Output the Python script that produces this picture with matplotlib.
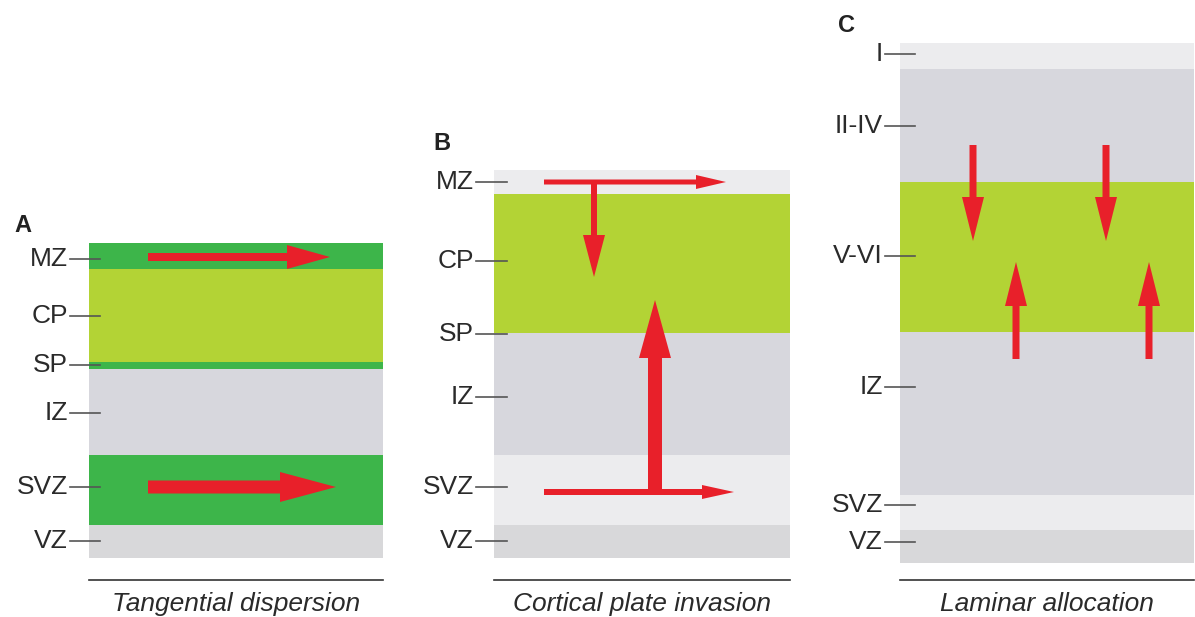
import matplotlib
matplotlib.use("Agg")
import matplotlib.pyplot as plt
from matplotlib.patches import Rectangle

plt.rcParams['font.family'] = ['Liberation Sans', 'DejaVu Sans']

# ---- colours ----
DKG = '#3db54a'
YG = '#b3d335'
GR = '#d7d7dd'
LG = '#ececee'
VG = '#d8d8da'
RED = '#e8202a'

# ---- Panel A: Tangential dispersion ----
a_x = [89, 383]
a_bounds = [243, 269, 362, 369, 455, 525, 558]
a_colors = [DKG, YG, DKG, GR, DKG, VG]
a_labels = ['MZ', 'CP', 'SP', 'IZ', 'SVZ', 'VZ']
a_label_y = [259, 316, 365, 413, 487, 541]
a_arrows = [  # x0, y0, x1, y1, shaft width, head width, head length
    (148, 257, 330, 257, 8, 24, 43),
    (148, 487, 336, 487, 13, 30, 56),
]

# ---- Panel B: Cortical plate invasion ----
b_x = [494, 790]
b_bounds = [170, 194, 333, 455, 525, 558]
b_colors = [LG, YG, GR, LG, VG]
b_labels = ['MZ', 'CP', 'SP', 'IZ', 'SVZ', 'VZ']
b_label_y = [182, 261, 334, 397, 487, 541]
b_arrows = [
    (544, 182, 726, 182, 5, 14, 30),
    (594, 182, 594, 277, 6, 22, 42),
    (655, 494, 655, 300, 14, 32, 58),
    (544, 492, 734, 492, 6, 14, 32),
]

# ---- Panel C: Laminar allocation ----
c_x = [900, 1194]
c_bounds = [43, 69, 182, 332, 495, 530, 563]
c_colors = [LG, GR, YG, GR, LG, VG]
c_labels = ['I', 'II-IV', 'V-VI', 'IZ', 'SVZ', 'VZ']
c_label_y = [54, 126, 256, 387, 505, 542]
c_arrows = [
    (973, 145, 973, 241, 7, 22, 44),
    (1106, 145, 1106, 241, 7, 22, 44),
    (1016, 359, 1016, 262, 7, 22, 44),
    (1149, 359, 1149, 262, 7, 22, 44),
]

panels = [
    ('A', (14, 226), a_x, a_bounds, a_colors, a_labels, a_label_y, a_arrows, 'Tangential dispersion', (70, 100)),
    ('B', (433, 143), b_x, b_bounds, b_colors, b_labels, b_label_y, b_arrows, 'Cortical plate invasion', (476, 507)),
    ('C', (838, 25), c_x, c_bounds, c_colors, c_labels, c_label_y, c_arrows, 'Laminar allocation', (885, 915)),
]

fig = plt.figure(figsize=(11.95, 6.17), dpi=100)
ax = fig.add_axes([0, 0, 1, 1])
ax.set_xlim(0, 1195)
ax.set_ylim(617, 0)
ax.axis('off')

for letter, lpos, xr, bounds, cols, labels, ly, arrows, caption, tick in panels:
    for i, c in enumerate(cols):
        ax.add_patch(Rectangle((xr[0], bounds[i]), xr[1] - xr[0], bounds[i + 1] - bounds[i],
                               facecolor=c, edgecolor='none', zorder=1))
    for lab, y in zip(labels, ly):
        ax.plot(tick, [y, y], color='#555555', lw=1.2, zorder=3)
        ax.text(tick[0] - 2, y, lab, ha='right', va='center', fontsize=19, color='#2a2a2a', zorder=3)
    for (x0, y0, x1, y1, w, hw, hl) in arrows:
        ax.arrow(x0, y0, x1 - x0, y1 - y0, width=w, head_width=hw, head_length=hl,
                 length_includes_head=True, facecolor=RED, edgecolor='none', zorder=4)
    ax.text(lpos[0], lpos[1], letter, ha='left', va='center', fontsize=17,
            fontweight='bold', color='#222222')
    ax.plot(xr, [580, 580], color='#333333', lw=1.2)
    ax.text((xr[0] + xr[1]) / 2, 604, caption, ha='center', va='center', fontsize=19,
            style='italic', color='#2a2a2a')

fig.savefig('out.png', dpi=100)
